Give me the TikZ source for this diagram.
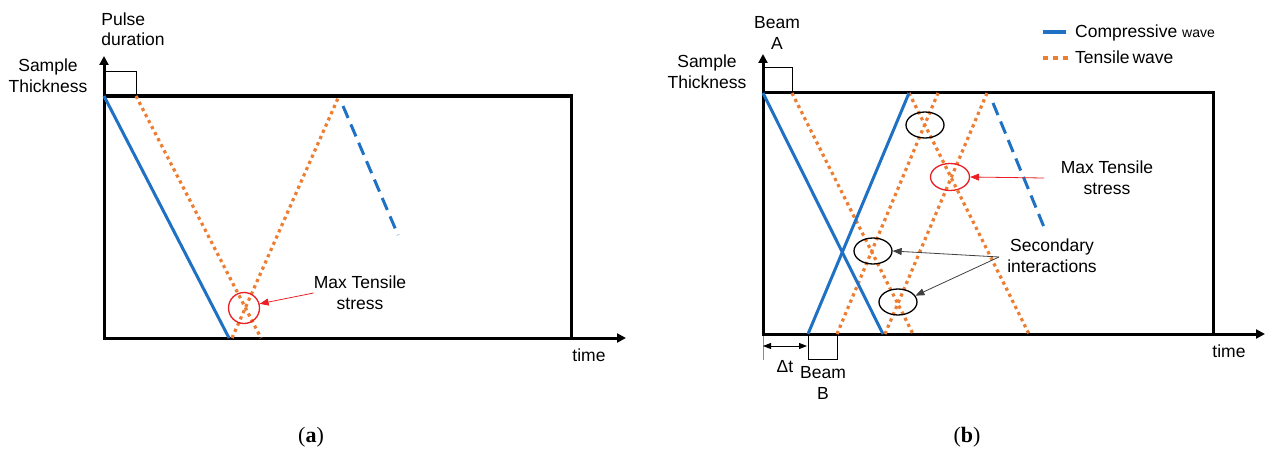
\documentclass[tikz,border=0pt]{standalone}
\usepackage{fontspec}
\setmainfont{Liberation Sans}
\newfontfamily\capfont{Liberation Serif}
\usetikzlibrary{arrows.meta,shapes.geometric}
\definecolor{cblue}{RGB}{31,113,196}
\definecolor{corange}{RGB}{237,125,49}
\definecolor{cred}{RGB}{235,30,35}
\begin{document}
\begin{tikzpicture}[x=1pt,y=-1pt,
  frame/.style={line width=3pt,black},
  axis/.style={line width=3pt,-{Triangle[length=9pt,width=9pt]}},
  comp/.style={cblue,line width=3pt},
  compdash/.style={cblue,line width=3pt,dash pattern=on 13pt off 7pt},
  tens/.style={corange,line width=3.2pt,dash pattern=on 3.2pt off 3.6pt},
  legtens/.style={corange,line width=4.5pt,dash pattern=on 5pt off 5pt},
  pulsebox/.style={line width=1pt},
  lbl/.style={font=\fontsize{17.5}{21}\selectfont,align=center,inner sep=0pt},
  captext/.style={font=\capfont\fontsize{22}{24}\selectfont,inner sep=0pt},
  blackell/.style={ellipse,draw=black,line width=1.3pt,minimum width=38pt,minimum height=26pt,inner sep=0pt},
  redell/.style={ellipse,draw=cred,line width=1.3pt,minimum width=39pt,minimum height=27pt,inner sep=0pt},
  redarrow/.style={cred,line width=0.8pt,-{Triangle[length=9pt,width=7pt]}},
  thinarrow/.style={black!75,line width=0.8pt,-{Triangle[length=9pt,width=7pt]}},
]
\useasboundingbox (0,0) rectangle (1283,452);

% ================= Panel (a) =================
\coordinate (aO) at (104,338);
\coordinate (aY) at (104,56);
\coordinate (aX) at (626,338);
\draw[frame] (104,96) rectangle (571,338);
\draw[axis] (aO) -- (aY);
\draw[axis] (aO) -- (aX);
\draw[pulsebox] (104,71.5) rectangle (136,96);

\node[lbl] (apulse) at (133,31) {\begin{tabular}{@{}l@{}}Pulse\\[-1pt]duration\end{tabular}};
\node[lbl] (athick) at (48,76) {Sample\\Thickness};
\node[lbl] (atime) at (589,355) {time};

\coordinate (a1s) at (104,96);  \coordinate (a1e) at (229,338);
\coordinate (a2s) at (136,96);  \coordinate (a2e) at (261,338);
\coordinate (a3s) at (232,338); \coordinate (a3e) at (339,96);
\coordinate (a4s) at (343,106); \coordinate (a4e) at (398,235);
\draw[comp] (a1s) -- (a1e);
\draw[tens] (a2s) -- (a2e);
\draw[tens] (a3s) -- (a3e);
\draw[compdash] (a4s) -- (a4e);

\node[circle,draw=cred,line width=1.3pt,minimum size=31pt,inner sep=0pt] (amax) at (244,308) {};
\node[lbl] (amaxt) at (360,293) {Max Tensile\\stress};
\draw[redarrow] (amaxt.west) -- (amax.15);

\node[captext] (capa) at (311,437) {(\textbf{a})};

% ================= Panel (b) =================
\coordinate (bO) at (763,334);
\coordinate (bY) at (763,54);
\coordinate (bX) at (1265,334);
\draw[frame] (763,93) rectangle (1213,334);
\draw[axis] (bO) -- (bY);
\draw[axis] (bO) -- (bX);
\draw[pulsebox] (763,68) rectangle (792,93);
\draw[pulsebox] (808,334) rectangle (837,359);

\node[lbl] (bbeamA) at (777,33) {Beam\\A};
\node[lbl] (bthick) at (707,72) {Sample\\Thickness};
\node[lbl] (bbeamB) at (823,383) {Beam\\B};
\node[lbl] (btime) at (1229,351) {time};
\node[lbl] (bdt) at (785,367) {Δt};

% delta t
\coordinate (dtA) at (763,346);
\coordinate (dtB) at (807,346);
\coordinate (tickT) at (763,336);
\coordinate (tickB) at (763,360);
\draw[black!45,line width=0.6pt] (tickT) -- (tickB);
\draw[black,line width=0.8pt,{Triangle[length=8pt,width=6pt]}-{Triangle[length=8pt,width=6pt]}] (dtA) -- (dtB);

% waves
\coordinate (b1s) at (763,93);  \coordinate (b1e) at (883,334);
\coordinate (b2s) at (808,334); \coordinate (b2e) at (909,93);
\coordinate (o1s) at (792,93);  \coordinate (o1e) at (913,334);
\coordinate (o2s) at (837,334); \coordinate (o2e) at (938,93);
\coordinate (o3s) at (909,93);  \coordinate (o3e) at (1029,334);
\coordinate (o4s) at (885,334); \coordinate (o4e) at (987,93);
\coordinate (bds) at (993,103); \coordinate (bde) at (1046,232);
\draw[tens] (o1s) -- (o1e);
\draw[tens] (o2s) -- (o2e);
\draw[tens] (o3s) -- (o3e);
\draw[tens] (o4s) -- (o4e);
\draw[comp] (b1s) -- (b1e);
\draw[comp] (b2s) -- (b2e);
\draw[compdash] (bds) -- (bde);

% ellipses
\node[blackell] (e1) at (925,125) {};
\node[redell] (emax) at (950,177) {};
\node[blackell] (e2) at (873,251) {};
\node[blackell] (e3) at (898,302) {};

\node[lbl] (bmaxt) at (1107,178) {Max Tensile\\stress};
\coordinate (bmaxs) at (1044,178);
\draw[redarrow] (bmaxs) -- (emax.east);

\node[lbl] (bsec) at (1052,256) {Secondary\\interactions};
\coordinate (bsecs) at (999,257);
\draw[thinarrow] (bsecs) -- (e2.east);
\draw[thinarrow] (bsecs) -- (e3.20);

% legend
\coordinate (lc1) at (1043,32); \coordinate (lc2) at (1066,32);
\coordinate (lt1) at (1043,58); \coordinate (lt2) at (1068,58);
\draw[cblue,line width=4.5pt] (lc1) -- (lc2);
\draw[legtens] (lt1) -- (lt2);
\node[lbl,anchor=base west] (legc) at (1075,38) {Compressive {\fontsize{14}{16}\selectfont wave}};
\node[lbl,anchor=base west] (legt) at (1075,64) {Tensile\,wave};

\node[captext] (capb) at (967,437) {(\textbf{b})};
\end{tikzpicture}
\end{document}
